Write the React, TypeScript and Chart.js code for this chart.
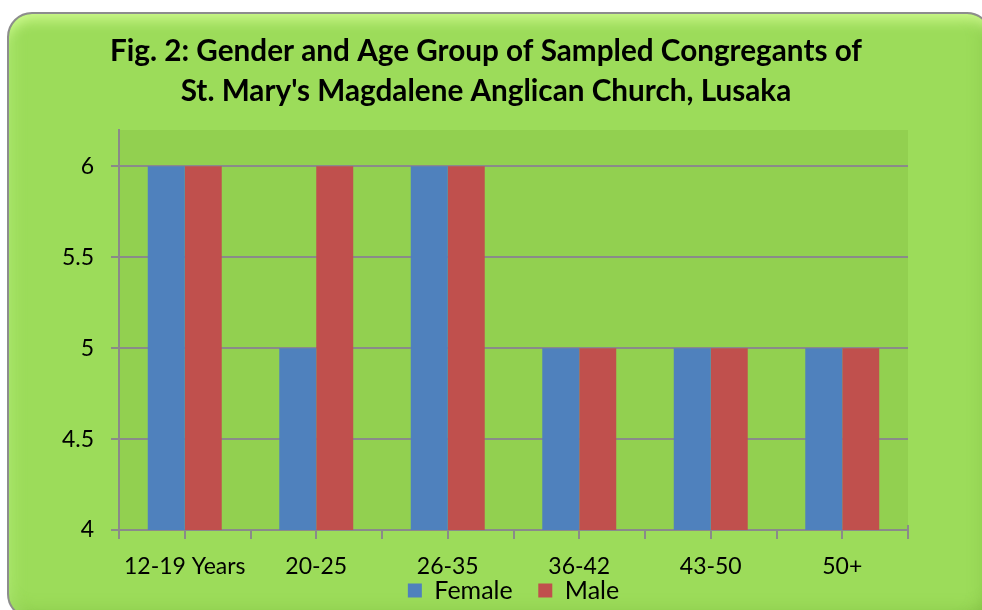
import React, { useEffect, useRef } from "react";
import { Chart, registerables } from "chart.js";

Chart.register(...registerables);

const categories = ["12-19 Years", "20-25", "26-35", "36-42", "43-50", "50+"];
const femaleValues = [6, 5, 6, 5, 5, 5];
const maleValues = [6, 6, 6, 5, 5, 5];
const yTickValues = [4, 4.5, 5, 5.5, 6];
const yTickLabels = ["4", "4.5", "5", "5.5", "6"];
const seriesNames = ["Female", "Male"];
const seriesColors = ["#4F81BD", "#C0504D"];
const titleLines = [
  "Fig. 2: Gender and Age Group of Sampled Congregants of",
  "St. Mary's Magdalene Anglican Church, Lusaka",
];

const AXIS = "#8a8a8a";
const FONT = "Lato";

const plotBg = {
  id: "plotBg",
  beforeDraw(chart: any) {
    const { ctx, chartArea: a } = chart;
    ctx.save();
    ctx.fillStyle = "#92D050";
    ctx.fillRect(a.left, a.top, a.right - a.left, a.bottom - a.top);
    ctx.restore();
  },
};

const xTickMarks = {
  id: "xTickMarks",
  afterDraw(chart: any) {
    const x = chart.scales.x;
    const ctx = chart.ctx;
    const n = categories.length;
    const step = x.getPixelForValue(1) - x.getPixelForValue(0);
    const bottom = chart.chartArea.bottom;
    ctx.save();
    ctx.strokeStyle = AXIS;
    ctx.lineWidth = 2;
    ctx.beginPath();
    for (let i = 0; i < n; i++) {
      const c = x.getPixelForValue(i);
      for (const p of [c - step / 2, c]) {
        ctx.moveTo(Math.round(p), bottom);
        ctx.lineTo(Math.round(p), bottom + 9);
      }
    }
    const end = Math.round(x.getPixelForValue(n - 1) + step / 2);
    ctx.moveTo(end, bottom - 5);
    ctx.lineTo(end, bottom + 9);
    ctx.stroke();
    ctx.restore();
  },
};

export default function App() {
  const ref = useRef<HTMLCanvasElement>(null);

  useEffect(() => {
    if (!ref.current) return;
    const chart = new Chart(ref.current, {
      type: "bar",
      data: {
        labels: categories,
        datasets: [
          {
            label: seriesNames[0],
            data: femaleValues,
            backgroundColor: seriesColors[0],
            borderWidth: 0,
            barPercentage: 1,
            categoryPercentage: 0.5625,
          },
          {
            label: seriesNames[1],
            data: maleValues,
            backgroundColor: seriesColors[1],
            borderWidth: 0,
            barPercentage: 1,
            categoryPercentage: 0.5625,
          },
        ],
      },
      options: {
        responsive: false,
        animation: false,
        devicePixelRatio: 1,
        layout: { padding: { left: 0, right: 10, top: 0, bottom: -3 } },
        scales: {
          x: {
            grid: { display: false },
            border: { display: true, color: AXIS, width: 2 },
            ticks: {
              color: "#000",
              font: { family: FONT, size: 23 },
              padding: 15,
              maxRotation: 0,
              autoSkip: false,
            },
            afterFit: (s: any) => {
              s.height = 48;
            },
          },
          y: {
            min: 4,
            max: 6.2,
            afterBuildTicks: (s: any) => {
              s.ticks = yTickValues.map((v) => ({ value: v }));
            },
            afterFit: (s: any) => {
              s.width = 119;
            },
            grid: {
              color: AXIS,
              lineWidth: 2,
              tickLength: 8,
              drawTicks: true,
            },
            border: { display: true, color: AXIS, width: 2 },
            ticks: {
              color: "#000",
              font: { family: FONT, size: 23 },
              padding: 17,
              callback: (v: any) => {
                const i = yTickValues.indexOf(Number(v));
                return i >= 0 ? yTickLabels[i] : "";
              },
            },
          },
          spacer: {
            type: "linear",
            position: "right",
            display: true,
            grid: { display: false },
            border: { display: false },
            ticks: { display: false },
            afterFit: (s: any) => {
              s.width = 64;
            },
          },
        },
        plugins: {
          title: {
            display: true,
            text: titleLines,
            color: "#000",
            font: { family: FONT, size: 29.7, weight: "bold", lineHeight: "39.5px" },
            padding: { top: 32, bottom: 19 },
          },
          legend: {
            position: "bottom",
            fullSize: false,
            labels: {
              color: "#000",
              font: { family: FONT, size: 25 },
              boxWidth: 14,
              boxHeight: 14,
              padding: 0,
              generateLabels: (c: any) =>
                c.data.datasets.map((ds: any, i: number) => ({
                  text: i < c.data.datasets.length - 1 ? ds.label + "    " : ds.label,
                  fillStyle: ds.backgroundColor,
                  strokeStyle: ds.backgroundColor,
                  lineWidth: 0,
                  fontColor: "#000",
                  hidden: false,
                  datasetIndex: i,
                })),
            },
          },
          tooltip: { enabled: false },
        },
      },
      plugins: [plotBg, xTickMarks],
    });
    return () => chart.destroy();
  }, []);

  return (
    <div
      style={{
        position: "fixed",
        left: 0,
        top: 0,
        width: 982,
        height: 610,
        overflow: "hidden",
        background: "#fff",
      }}
    >
      <div
        style={{
          position: "absolute",
          left: 7,
          top: 12,
          width: 985,
          height: 607,
          boxSizing: "border-box",
          borderRadius: 25,
          border: "2px solid #8d8d8d",
          background: "#9CDC5A",
          boxShadow:
            "inset 0 16px 14px -10px rgba(215,255,150,0.85), inset 14px 0 14px -10px rgba(200,255,150,0.35), inset -16px 0 16px -10px rgba(110,170,50,0.35), inset 0 -16px 16px -10px rgba(110,170,50,0.35)",
        }}
      />
      <canvas
        ref={ref}
        width={982}
        height={610}
        style={{ position: "absolute", left: 0, top: 0, width: 982, height: 610 }}
      />
    </div>
  );
}
